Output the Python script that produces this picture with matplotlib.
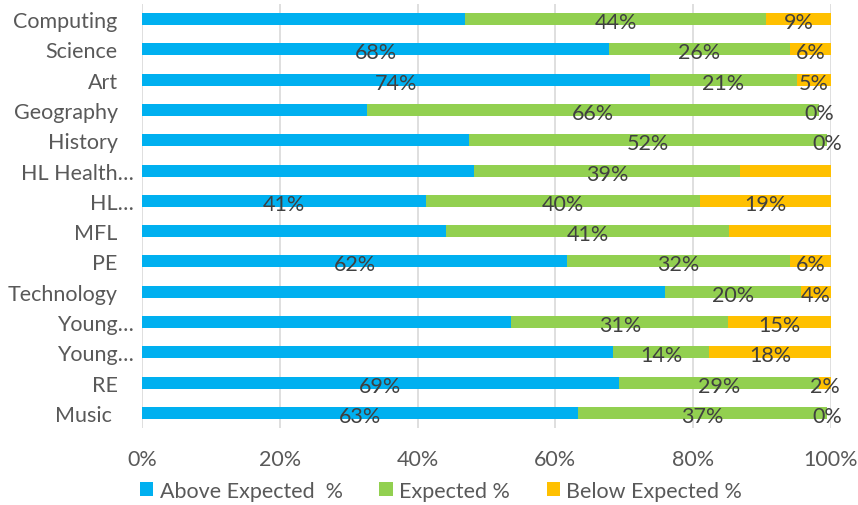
import matplotlib
matplotlib.use("Agg")
import matplotlib.pyplot as plt
from matplotlib.patches import Patch
from matplotlib.transforms import ScaledTranslation

plt.rcParams["font.family"] = ["Lato", "DejaVu Sans"]

CATEGORIES = [
    "Computing", "Science", "Art", "Geography", "History", "HL Health…",
    "HL…", "MFL", "PE", "Technology", "Young…", "Young…", "RE", "Music ",
]
ABOVE = [46.9, 67.8, 73.7, 32.7, 47.5, 48.2, 41.2, 44.1, 61.7, 75.9, 53.6, 68.4, 69.2, 63.3]
EXPECTED = [43.7, 26.2, 21.3, 65.6, 51.9, 38.6, 39.8, 41.1, 32.3, 19.7, 31.5, 13.9, 29.1, 36.1]
BELOW = [9.4, 6.0, 5.0, 0.0, 0.0, 13.2, 19.0, 14.8, 6.0, 4.4, 14.9, 17.7, 1.7, 0.0]

# data labels as shown on the chart (blank = not shown)
ABOVE_LABELS = ["", "68%", "74%", "", "", "", "41%", "", "62%", "", "", "", "69%", "63%"]
EXPECTED_LABELS = ["44%", "26%", "21%", "66%", "52%", "39%", "40%", "41%",
                   "32%", "20%", "31%", "14%", "29%", "37%"]
BELOW_LABELS = ["9%", "6%", "5%", "0%", "0%", "", "19%", "", "6%", "4%",
                "15%", "18%", "2%", "0%"]

SERIES = ["Above Expected  %", "Expected %", "Below Expected %"]
COLORS = ["#00B0F0", "#92D050", "#FFC000"]

fig = plt.figure(figsize=(8.58, 5.06), dpi=100)
ax = fig.add_axes([142 / 858, 1 - 429 / 506, 689 / 858, 424 / 506])

ys = list(range(len(CATEGORIES)))
lefts = [0.0] * len(CATEGORIES)
for vals, labels, color in zip(
    [ABOVE, EXPECTED, BELOW],
    [ABOVE_LABELS, EXPECTED_LABELS, BELOW_LABELS],
    COLORS,
):
    ax.barh(ys, vals, left=lefts, height=0.4, color=color, zorder=2)
    for y, v, l, lab in zip(ys, vals, lefts, labels):
        if lab:
            ax.text(l + v / 2, y + 0.1, lab, ha="center", va="center",
                    fontsize=15.5, color="#404040", zorder=3)
    lefts = [l + v for l, v in zip(lefts, vals)]

ax.set_xlim(0, 100)
ax.set_ylim(len(CATEGORIES) - 0.5, -0.5)
ax.set_xticks([0, 20, 40, 60, 80, 100])
ax.set_xticklabels(["0%", "20%", "40%", "60%", "80%", "100%"])
ax.set_yticks(ys)
ax.set_yticklabels(CATEGORIES)
ax.tick_params(axis="both", length=0, labelsize=15.5, labelcolor="#595959")
ax.tick_params(axis="x", pad=15)
ax.tick_params(axis="y", pad=6)
ax.grid(axis="x", color="#D9D9D9", linewidth=1.2, zorder=0)
ax.set_axisbelow(True)
for s in ax.spines.values():
    s.set_visible(False)

# labels that were not truncated sit further left in the original
shift = ScaledTranslation(-16 / 100, 0, fig.dpi_scale_trans)
for lab in ax.get_yticklabels():
    if not lab.get_text().endswith("…"):
        lab.set_transform(lab.get_transform() + shift)

handles = [Patch(facecolor=c, label=s) for c, s in zip(COLORS, SERIES)]
fig.legend(handles=handles, loc="center", bbox_to_anchor=(441 / 858, 1 - 492 / 506),
           ncol=3, frameon=False, fontsize=15.5, labelcolor="#595959",
           handlelength=0.62, handleheight=0.62, handletextpad=0.3,
           columnspacing=1.7)

fig.savefig("out.png", dpi=100)
